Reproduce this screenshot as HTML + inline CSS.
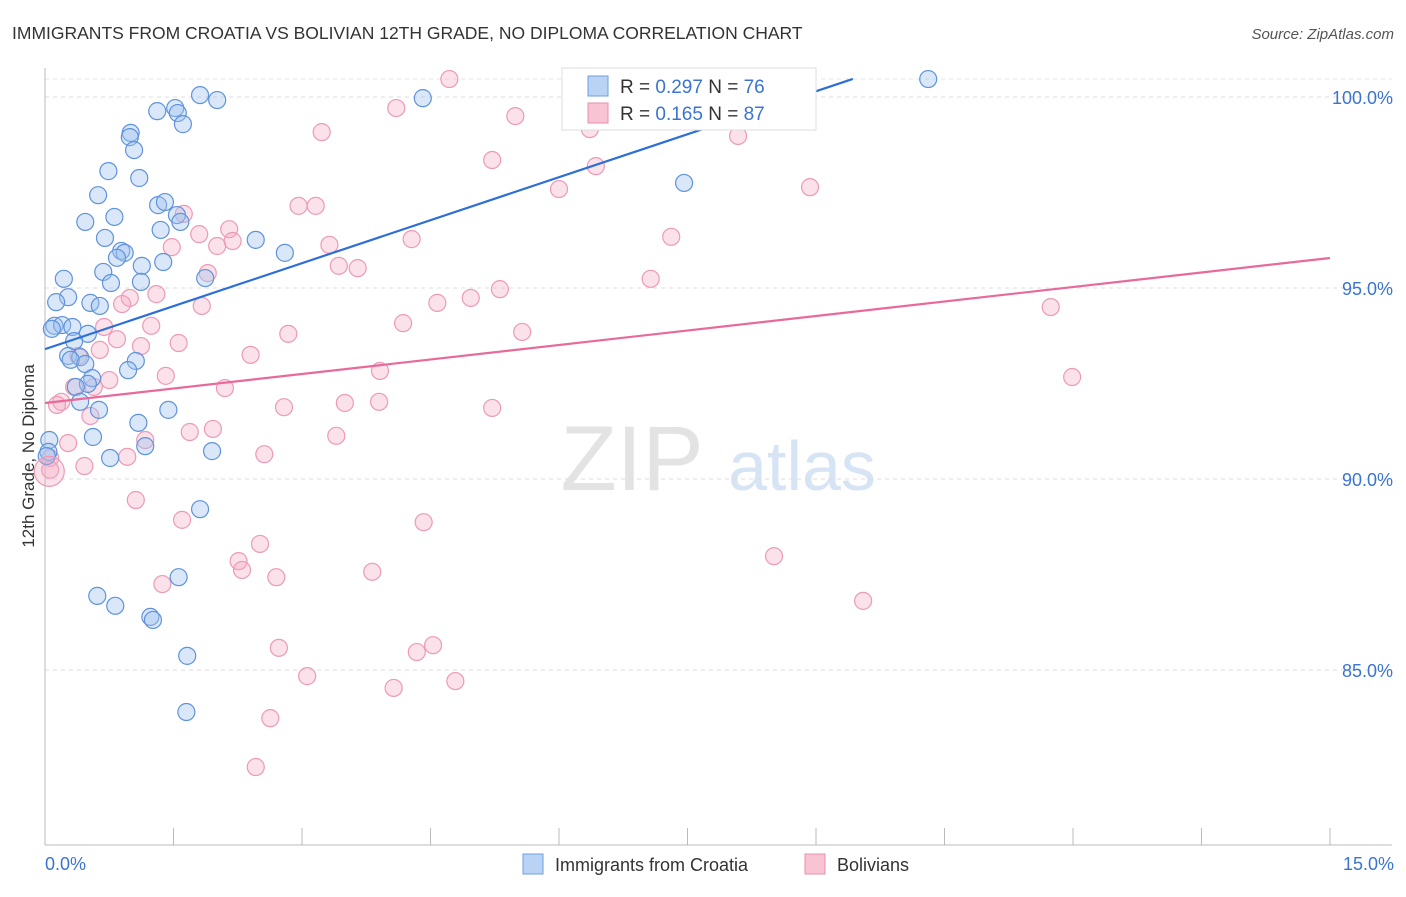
<!DOCTYPE html>
<html><head><meta charset="utf-8">
<style>
body{margin:0;background:#fff;font-family:"Liberation Sans",sans-serif;}
svg text{font-family:"Liberation Sans",sans-serif;}
</style></head>
<body>
<svg id="chart" width="1406" height="892" xmlns="http://www.w3.org/2000/svg">
<text x="12" y="39" font-size="17.5" fill="#333">IMMIGRANTS FROM CROATIA VS BOLIVIAN 12TH GRADE, NO DIPLOMA CORRELATION CHART</text>
<text x="1394" y="39" font-size="15" fill="#555" font-style="italic" text-anchor="end">Source: ZipAtlas.com</text>
<text transform="translate(34,456) rotate(-90)" font-size="17" fill="#333" text-anchor="middle">12th Grade, No Diploma</text>
<g>
<text x="632" y="490" font-size="92" fill="#e3e3e3" font-family="Liberation Serif" text-anchor="middle">ZIP</text>
<text x="802" y="490" font-size="70" fill="#d6e4f5" text-anchor="middle">atlas</text>
</g>
<g id="grid"></g>
<g id="axes"></g>
<g id="points"></g>
<g id="lines"></g>
<g>
<rect x="562" y="68" width="254" height="62" fill="#fff" stroke="#ddd"/>
<rect x="588" y="76" width="20" height="20" fill="#b9d3f5" stroke="#6e9fe0"/>
<rect x="588" y="103" width="20" height="20" fill="#f8c3d3" stroke="#ea8fae"/>
<text x="620" y="93" font-size="19" fill="#333">R = <tspan fill="#3a74d0">0.297</tspan>   N = <tspan fill="#3a74d0">76</tspan></text>
<text x="620" y="120" font-size="19" fill="#333">R = <tspan fill="#3a74d0">0.165</tspan>   N = <tspan fill="#3a74d0">87</tspan></text>
</g>
<g>
<rect x="523" y="854" width="20" height="20" fill="#b9d3f5" stroke="#6e9fe0"/>
<text x="555" y="871" font-size="18" fill="#333">Immigrants from Croatia</text>
<rect x="805" y="854" width="20" height="20" fill="#f8c3d3" stroke="#ea8fae"/>
<text x="837" y="871" font-size="18" fill="#333">Bolivians</text>
</g>
</svg>
<script>
const blueX=[1.81,1.52,1.55,1.61,1.31,2.01,4.41,10.31,1.00,0.99,1.04,0.74,1.10,0.62,0.47,0.81,1.32,1.40,1.54,1.58,1.35,0.70,0.89,0.93,0.84,1.13,1.38,2.46,2.80,0.22,0.68,0.77,1.12,1.87,0.27,0.13,0.53,0.64,0.11,0.20,0.32,0.08,0.50,0.34,0.27,0.41,0.30,0.47,1.06,0.97,0.55,0.50,0.36,0.41,0.63,1.44,1.09,0.56,1.17,1.95,0.76,0.05,0.04,0.02,1.81,1.56,0.61,0.82,1.23,1.26,1.66,1.65,7.46];
const blueY=[100.05,99.71,99.58,99.29,99.63,99.92,99.97,100.47,99.06,98.95,98.61,98.06,97.88,97.43,96.73,96.86,97.17,97.25,96.91,96.73,96.52,96.31,95.97,95.92,95.79,95.58,95.68,96.26,95.92,95.24,95.42,95.13,95.16,95.26,94.76,94.63,94.61,94.53,94.01,94.03,93.98,93.93,93.80,93.61,93.22,93.19,93.12,93.01,93.09,92.85,92.64,92.49,92.41,92.02,91.81,91.81,91.47,91.10,90.86,90.73,90.55,91.02,90.71,90.60,89.21,87.43,86.94,86.68,86.39,86.31,85.37,83.90,97.75];
const pinkX=[4.72,4.10,5.49,3.23,6.36,8.09,5.22,6.43,6.00,8.93,2.96,3.16,1.62,2.15,1.80,2.19,2.01,1.48,3.32,4.28,7.31,3.43,3.65,1.90,7.07,0.99,1.30,0.90,1.83,5.31,4.97,4.58,11.74,1.24,0.69,2.84,4.18,5.57,0.84,1.12,1.56,0.64,0.39,2.40,1.41,0.75,3.91,2.10,0.34,0.57,0.19,0.14,0.53,2.79,3.50,3.90,5.22,11.99,1.96,1.69,3.40,1.17,0.27,0.96,2.56,0.46,0.06,0.06,1.06,1.60,4.42,2.51,2.26,2.30,1.37,2.70,3.82,8.51,9.55,2.73,4.34,4.53,3.06,4.79,4.07,2.63,2.46];
const pinkY=[100.47,99.71,99.50,99.08,99.16,98.98,98.35,98.19,97.59,97.64,97.15,97.15,96.94,96.54,96.41,96.23,96.10,96.07,96.13,96.28,96.34,95.58,95.52,95.39,95.24,94.74,94.84,94.58,94.53,94.97,94.74,94.61,94.50,94.01,93.98,93.80,94.08,93.85,93.66,93.48,93.56,93.38,93.22,93.25,92.70,92.59,92.83,92.38,92.41,92.41,92.02,91.94,91.65,91.88,91.99,92.02,91.86,92.67,91.31,91.23,91.13,91.02,90.94,90.58,90.65,90.34,90.55,90.24,89.45,88.93,88.87,88.30,87.85,87.62,87.25,87.43,87.57,87.98,86.81,85.58,85.47,85.65,84.84,84.71,84.53,83.74,82.46];
const trendIntercept=[93.40,91.99];
const trendSlope=[0.75,0.253];
const trendEndX=[9.43,15];
const yTicks=[100,95,90,85];
const yTickLabels=["100.0%","95.0%","90.0%","85.0%"];
const xTicks=[0,1.5,3,4.5,6,7.5,9,10.5,12,13.5,15];

const NS="http://www.w3.org/2000/svg";
const sx=v=>45+v*(1285/15);
const sy=v=>97+(100-v)*38.2;
function mk(tag,attrs,parent){const e=document.createElementNS(NS,tag);for(const k in attrs)e.setAttribute(k,attrs[k]);parent.appendChild(e);return e;}
const grid=document.getElementById('grid'),axes=document.getElementById('axes'),pts=document.getElementById('points'),lines=document.getElementById('lines');
yTicks.forEach((t,i)=>{
 const l=mk('line',{x1:45,x2:1392,y1:sy(t),y2:sy(t),stroke:'#ddd','stroke-dasharray':'4,4'},grid);
 
 
 const tx=mk('text',{x:1393,y:sy(t)+7,'font-size':18,fill:'#3a74d0','text-anchor':'end'},axes);
 tx.textContent=yTickLabels[i];
 
 
});
const topG=mk('line',{x1:45,x2:1392,y1:79,y2:79,stroke:'#e4e4e4','stroke-dasharray':'4,4'},grid);


const ax=mk('line',{x1:45,x2:1392,y1:845,y2:845,stroke:'#bbb'},axes);


const ay=mk('line',{x1:45,x2:45,y1:68,y2:845,stroke:'#bbb'},axes);


xTicks.forEach(t=>{
 const l=mk('line',{x1:sx(t),x2:sx(t),y1:828,y2:845,stroke:'#bbb'},axes);
 
 
});
const xl0=mk('text',{x:45,y:870,'font-size':18,fill:'#3a74d0'},axes);xl0.textContent='0.0%';


const xl1=mk('text',{x:1394,y:870,'font-size':18,fill:'#3a74d0','text-anchor':'end'},axes);xl1.textContent='15.0%';


pinkX.forEach((x,i)=>{
 const c=mk('circle',{cx:sx(x),cy:sy(pinkY[i]),r:8.5,fill:'rgba(244,170,195,0.35)',stroke:'#ec9ab6','stroke-width':1.2},pts);
 
 
});
blueX.forEach((x,i)=>{
 const c=mk('circle',{cx:sx(x),cy:sy(blueY[i]),r:8.5,fill:'rgba(160,196,240,0.4)',stroke:'#5f93db','stroke-width':1.2},pts);
 
 
});
const big=mk('circle',{cx:sx(0.05),cy:sy(90.2),r:15,fill:'rgba(244,170,195,0.35)',stroke:'#ec9ab6','stroke-width':1.2},pts);


const cols=['#2e6fd6','#e8699a'];
const names=['croatia-trend-line','bolivians-trend-line'];
trendIntercept.forEach((b,i)=>{
 const x2=trendEndX[i];
 const l=mk('line',{x1:sx(0),y1:sy(b),x2:sx(x2),y2:sy(b+trendSlope[i]*x2),stroke:cols[i],'stroke-width':2.2},lines);
 
 
});
</script>
</body></html>
